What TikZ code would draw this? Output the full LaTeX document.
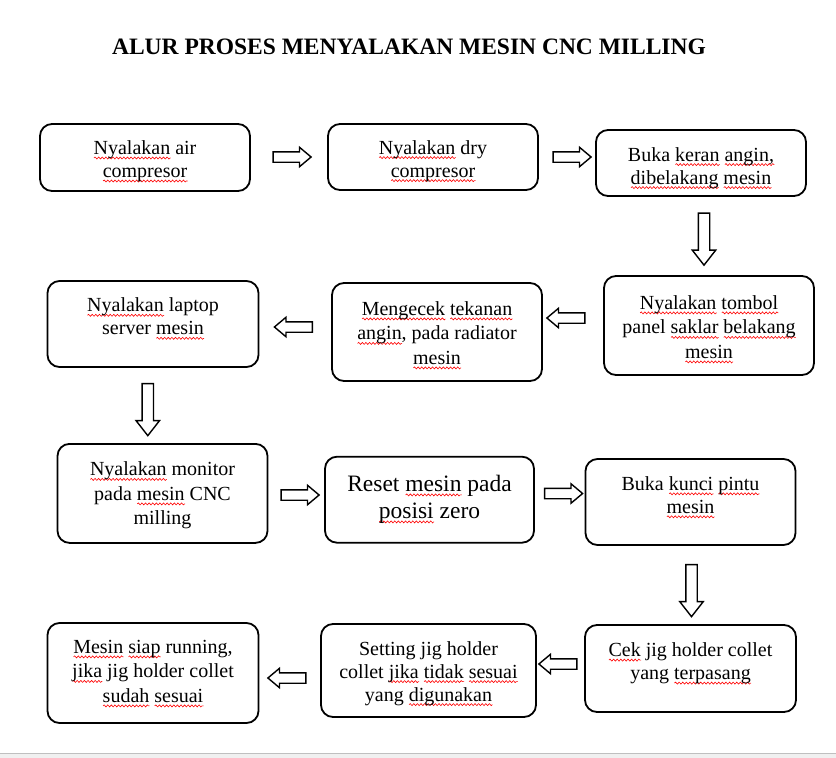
\documentclass[tikz,border=0pt]{standalone}
\usepackage{fontspec}
\setmainfont{Liberation Serif}
\usetikzlibrary{shapes.arrows,decorations.pathmorphing}
\newsavebox\wvbox
\newdimen\wvw
\newcommand\wv[1]{\sbox\wvbox{#1}\wvw=\wd\wvbox\rlap{\tikz[baseline=3.5pt,x=1pt,y=1pt]\draw[red,line width=0.6pt,decorate,decoration={snake,amplitude=1pt,segment length=3.6pt}] (0,0) -- (\wvw,0);}\usebox\wvbox}
\tikzset{
  box/.style={draw, line width=1.8pt, rounded corners=12pt, inner sep=0pt},
  txt/.style={align=center, inner sep=0pt, font=\fontsize{20}{23}\selectfont},
  txtiii/.style={align=center, inner sep=0pt, font=\fontsize{20}{24.5}\selectfont},
  bigtxt/.style={align=center, inner sep=0pt, font=\fontsize{23.5}{27}\selectfont},
  harr/.style={single arrow, draw, line width=1.4pt, minimum height=38pt, minimum width=18pt,
    single arrow head extend=4.5pt, single arrow tip angle=80, inner xsep=0pt, inner ysep=4.5pt},
  varr/.style={single arrow, draw, line width=1.4pt, minimum height=52pt, minimum width=22pt,
    single arrow head extend=6pt, single arrow tip angle=76, inner xsep=0pt, inner ysep=5pt, rotate=-90},
}
\begin{document}
\begin{tikzpicture}[x=1pt,y=-1pt]
\useasboundingbox (0,0) rectangle (836,758);
\fill[white] (0,0) rectangle (836,758);
\fill[black!6] (0,753.5) rectangle (836,758);
\draw[black!25, line width=1pt] (0,753.5) -- (836,753.5);

\node[font=\bfseries\fontsize{23.5}{28}\selectfont, inner sep=0pt] (title) at (409,47)
  {ALUR PROSES MENYALAKAN MESIN CNC MILLING};

% row 1
\node[box, minimum width=210pt, minimum height=67pt] (b1) at (145,157.5) {};
\node[txt] (t1) at (145,161.4) {\strut\wv{Nyalakan} air\\\strut\wv{compresor}};
\node[box, minimum width=210pt, minimum height=66pt] (b2) at (433,157) {};
\node[txt] (t2) at (433,161) {\strut\wv{Nyalakan} dry\\\strut\wv{compresor}};
\node[box, minimum width=210pt, minimum height=66pt] (b3) at (701,163) {};
\node[txt] (t3) at (701,168) {\strut Buka \wv{keran} \wv{angin,}\\\strut\wv{dibelakang} \wv{mesin}};

% row 2
\node[box, minimum width=210pt, minimum height=99pt] (b4) at (709,325.5) {};
\node[txtiii] (t4) at (709,329) {\strut\wv{Nyalakan} \wv{tombol}\\\strut panel \wv{saklar} \wv{belakang}\\\strut\wv{mesin}};
\node[box, minimum width=210pt, minimum height=98pt] (b5) at (437,332) {};
\node[txtiii] (t5) at (437,335) {\strut\wv{Mengecek} \wv{tekanan}\\\strut\wv{angin}, pada radiator\\\strut\wv{mesin}};
\node[box, minimum width=211pt, minimum height=86pt] (b6) at (153,324) {};
\node[txt] (t6) at (153,318.7) {\strut\wv{Nyalakan} laptop\\\strut server \wv{mesin}};

% row 3
\node[box, minimum width=210pt, minimum height=99pt] (b7) at (162.5,493.4) {};
\node[txtiii] (t7) at (162.5,495.5) {\strut\wv{Nyalakan} monitor\\\strut pada \wv{mesin} CNC\\\strut milling};
\node[box, minimum width=209pt, minimum height=86pt] (b8) at (429.5,499.7) {};
\node[bigtxt] (t8) at (429.5,499.5) {\strut Reset \wv{mesin} pada\\\strut\wv{posisi} zero};
\node[box, minimum width=210pt, minimum height=86pt] (b9) at (690.5,502) {};
\node[txt] (t9) at (690.5,497.2) {\strut Buka \wv{kunci} \wv{pintu}\\\strut\wv{mesin}};

% row 4
\node[box, minimum width=211pt, minimum height=87pt] (b10) at (690.5,668.5) {};
\node[txt] (t10) at (690.5,663.5) {\strut\wv{Cek} jig holder collet\\\strut yang \wv{terpasang}};
\node[box, minimum width=215pt, minimum height=93pt] (b11) at (428.5,670.5) {};
\node[txt] (t11) at (428.5,673.5) {\strut Setting jig holder\\\strut collet \wv{jika} \wv{tidak} \wv{sesuai}\\\strut yang \wv{digunakan}};
\node[box, minimum width=211pt, minimum height=100pt] (b12) at (153,673) {};
\node[txtiii] (t12) at (153,673) {\strut\wv{Mesin} \wv{siap} running,\\\strut\wv{jika} jig holder collet\\\strut\wv{sudah} \wv{sesuai}};

% arrows
\node[harr] (a1) at (289,157) {};
\node[harr] (a2) at (569,157) {};
\node[varr] (a3) at (704,235.5) {};
\node[harr, rotate=180] (a4) at (569,318) {};
\node[harr, rotate=180] (a5) at (296.5,327) {};
\node[varr] (a6) at (147.8,406) {};
\node[harr] (a7) at (297,495) {};
\node[harr] (a8) at (560.5,493.5) {};
\node[varr] (a9) at (691.5,587) {};
\node[harr, rotate=180] (a10) at (561,664) {};
\node[harr, rotate=180] (a11) at (290,678) {};
\end{tikzpicture}
\end{document}
